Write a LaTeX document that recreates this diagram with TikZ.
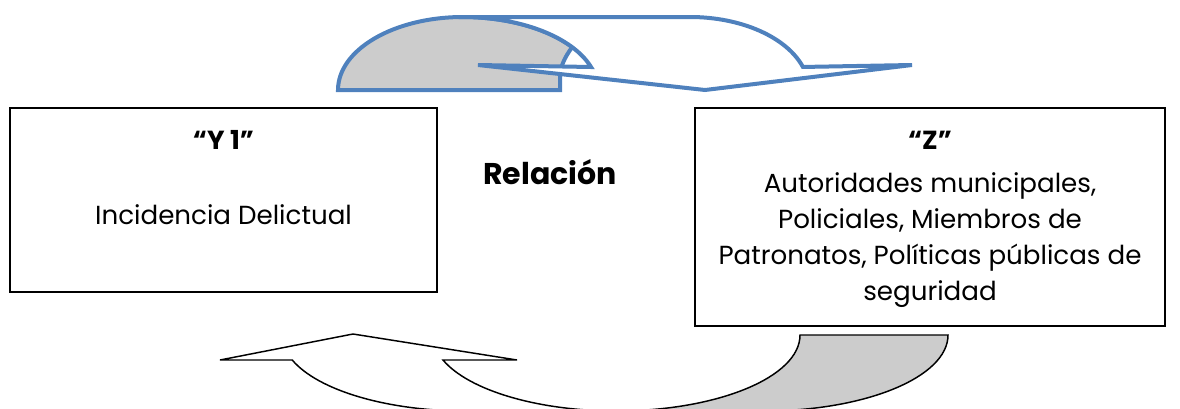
\documentclass[tikz,border=0pt]{standalone}
\usepackage{fontspec}
\setmainfont{Poppins}
\definecolor{arrowblue}{HTML}{4F81BD}
\definecolor{backgrey}{HTML}{CCCCCC}

\begin{document}
\begin{tikzpicture}[
    x=0.75pt, y=-0.75pt,    % pixel grid, y downwards
    line join=miter,
    every node/.style={
      font=\fontsize{19.6}{27.2}\selectfont,
      inner sep=1pt
    },
    title/.style={font=\fontsize{19.6}{27.2}\selectfont\bfseries},
    varbox/.style={draw, line width=1.1pt, inner sep=0pt},
    bluearrow/.style={draw=arrowblue, line width=3pt},
    blackarrow/.style={draw=black, line width=1.1pt}
]
\useasboundingbox (0,0) rectangle (1180,408);

% upper curved arrow
\begin{scope}[bluearrow]
  \draw[fill=backgrey] (338,90) arc[start angle=180, end angle=270, x radius=125, y radius=73]
    arc[start angle=270, end angle=324, x radius=135, y radius=73]
    .. controls (564,58) and (560,68) .. (560,77) -- (560,90) -- cycle;
  \draw[fill=white] (463,17) -- (690,17)
    arc[start angle=270, end angle=341.6, x radius=119, y radius=73]
    -- (912,65) -- (705,90) -- (478,65) -- (591,67)
    arc[start angle=341.6, end angle=270, x radius=135, y radius=73] -- cycle;
\end{scope}

% lower curved arrow
\begin{scope}[blackarrow]
  \draw[fill=backgrey] (800,335) -- (948,335)
    arc[start angle=0, end angle=90, x radius=184, y radius=76]
    -- (616,411)
    arc[start angle=90, end angle=0, x radius=184, y radius=76] -- cycle;
  \draw[fill=white] (293,360) -- (220,360) -- (353,334) -- (517,360) -- (443,360)
    arc[start angle=160.8, end angle=90, x radius=184, y radius=76]
    -- (466,411)
    arc[start angle=90, end angle=160.8, x radius=184, y radius=76] -- cycle;
\end{scope}

% variables
\node[varbox, minimum width=320.25pt, minimum height=138pt] (ybox) at (223.5,200) {};
\node[varbox, minimum width=352.5pt, minimum height=163.5pt] (zbox) at (930,217) {};

\node[title] (ytitle) at (223.5,140) {“Y 1”};
\node (ytext) at (223.5,215) {Incidencia Delictual};

\node[title] (ztitle) at (930,140) {“Z”};
\node[align=center] (ztext) at (930,240) {Autoridades municipales,\\
  Policiales, Miembros de\\
  Patronatos, Políticas públicas de\\
  seguridad};

\node[title, font=\fontsize{22.5}{27.2}\selectfont\bfseries] (rel) at (550,172) {Relación};
\end{tikzpicture}
\end{document}
